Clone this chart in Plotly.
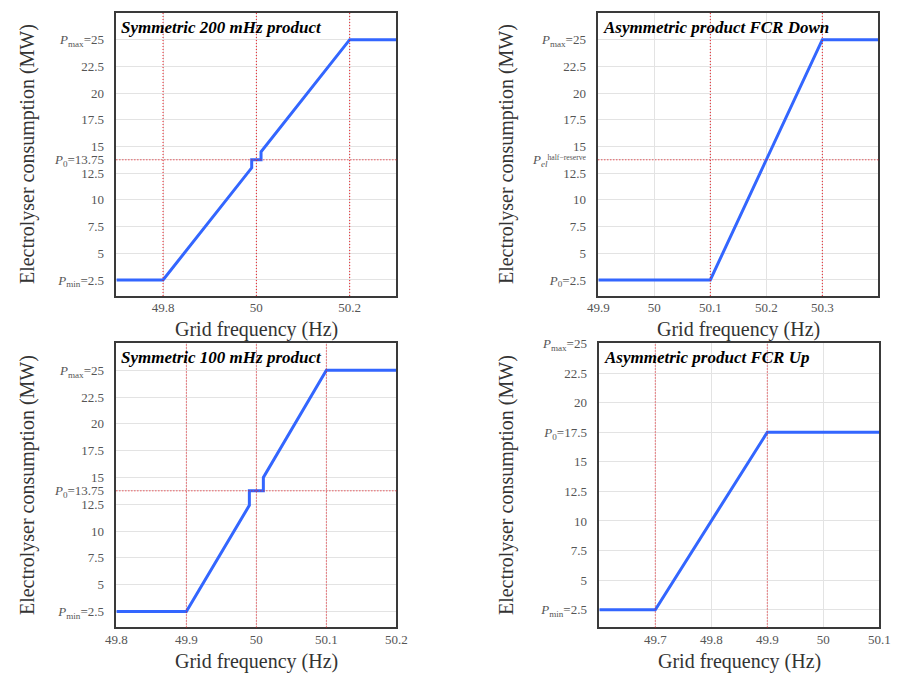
import plotly.graph_objects as go

# ---------------- data ----------------
# Panel 1: Symmetric 200 mHz product
p1_freq = [49.7, 49.8, 49.99, 49.99, 50.01, 50.01, 50.2, 50.3]
p1_power = [2.5, 2.5, 13.0, 13.75, 13.75, 14.5, 25, 25]
p1_vlines = [49.8, 50.0, 50.2]
p1_hlines = [13.75]
p1_xticks = [49.8, 50.0, 50.2]
p1_xticktext = ["49.8", "50", "50.2"]

# Panel 2: Asymmetric product FCR Down
p2_freq = [49.9, 50.1, 50.3, 50.4]
p2_power = [2.5, 2.5, 25, 25]
p2_vlines = [50.1, 50.3]
p2_hlines = [13.75]
p2_xticks = [49.9, 50.0, 50.1, 50.2, 50.3]
p2_xticktext = ["49.9", "50", "50.1", "50.2", "50.3"]

# Panel 3: Symmetric 100 mHz product
p3_freq = [49.8, 49.9, 49.99, 49.99, 50.01, 50.01, 50.1, 50.2]
p3_power = [2.5, 2.5, 12.4, 13.75, 13.75, 15.0, 25, 25]
p3_vlines = [49.9, 50.0, 50.1]
p3_hlines = [13.75]
p3_xticks = [49.8, 49.9, 50.0, 50.1, 50.2]
p3_xticktext = ["49.8", "49.9", "50", "50.1", "50.2"]

# Panel 4: Asymmetric product FCR Up
p4_freq = [49.6, 49.7, 49.9, 50.1]
p4_power = [2.5, 2.5, 17.5, 17.5]
p4_vlines = [49.7, 49.9]
p4_hlines = []
p4_xticks = [49.7, 49.8, 49.9, 50.0, 50.1]
p4_xticktext = ["49.7", "49.8", "49.9", "50", "50.1"]

sym_yticks = [2.5, 5, 7.5, 10, 12.5, 13.75, 15, 17.5, 20, 22.5, 25]
sym_yticktext = ["<i>P</i><sub>min</sub>=2.5", "5", "7.5", "10", "12.5",
                 "<i>P</i><sub>0</sub>=13.75", "15", "17.5", "20", "22.5",
                 "<i>P</i><sub>max</sub>=25"]
down_yticks = [2.5, 5, 7.5, 10, 12.5, 13.75, 15, 17.5, 20, 22.5, 25]
down_yticktext = ["<i>P</i><sub>0</sub>=2.5", "5", "7.5", "10", "12.5",
                  "<i>P</i><sub><i>el</i></sub><span style='font-size:11px'><sup>half−reserve</sup></span>",
                  "15", "17.5", "20", "22.5",
                  "<i>P</i><sub>max</sub>=25"]
up_yticks = [2.5, 5, 7.5, 10, 12.5, 15, 17.5, 20, 22.5, 25]
up_yticktext = ["<i>P</i><sub>min</sub>=2.5", "5", "7.5", "10", "12.5", "15",
                "<i>P</i><sub>0</sub>=17.5", "20", "22.5", "<i>P</i><sub>max</sub>=25"]

titles = ["Symmetric 200 mHz product", "Asymmetric product FCR Down",
          "Symmetric 100 mHz product", "Asymmetric product FCR Up"]

xlabel = "Grid frequency (Hz)"
ylabel = "Electrolyser consumption (MW)"

# ---------------- layout ----------------
W, H = 902, 674
FONT = "Liberation Serif"
BLUE = "#3366ff"
RED = "#e8141c"

panels = [
    dict(freq=p1_freq, power=p1_power, vl=p1_vlines, hl=p1_hlines, xt=p1_xticks, xtt=p1_xticktext,
         yt=sym_yticks, ytt=sym_yticktext, xr=[49.7, 50.3], yr=[1.0, 27.5],
         px=(108, 395), py=(6, 292), ylab_x=17),
    dict(freq=p2_freq, power=p2_power, vl=p2_vlines, hl=p2_hlines, xt=p2_xticks, xtt=p2_xticktext,
         yt=down_yticks, ytt=down_yticktext, xr=[49.9, 50.4], yr=[1.0, 27.5],
         px=(602, 889), py=(6, 292), ylab_x=508),
    dict(freq=p3_freq, power=p3_power, vl=p3_vlines, hl=p3_hlines, xt=p3_xticks, xtt=p3_xticktext,
         yt=sym_yticks, ytt=sym_yticktext, xr=[49.8, 50.2], yr=[1.0, 27.5],
         px=(108, 395), py=(340, 627), ylab_x=17),
    dict(freq=p4_freq, power=p4_power, vl=p4_vlines, hl=p4_hlines, xt=p4_xticks, xtt=p4_xticktext,
         yt=up_yticks, ytt=up_yticktext, xr=[49.6, 50.1], yr=[1.0, 25.0],
         px=(603, 890), py=(340, 627), ylab_x=508),
]

fig = go.Figure()
layout = dict(
    width=W, height=H, margin=dict(l=0, r=0, t=0, b=0),
    paper_bgcolor="white", plot_bgcolor="white", showlegend=False,
    font=dict(family=FONT, color="#555555", size=13),
)
shapes = []
annotations = []

for i, p in enumerate(panels):
    k = "" if i == 0 else str(i + 1)
    xa, ya = "x" + k, "y" + k
    fig.add_trace(go.Scatter(x=p["freq"], y=p["power"], mode="lines",
                             line=dict(color=BLUE, width=3), xaxis=xa, yaxis=ya,
                             hoverinfo="skip"))
    x0, x1 = p["px"][0] / W, p["px"][1] / W
    y0, y1 = 1 - p["py"][1] / H, 1 - p["py"][0] / H
    layout["xaxis" + k] = dict(
        domain=[x0, x1], range=p["xr"], anchor=ya, tickvals=p["xt"], ticktext=p["xtt"],
        showgrid=True, gridcolor="#e3e3e3", gridwidth=1.2, zeroline=False,
        showline=True, linecolor="#3a3a3a", linewidth=1.5, mirror=True, ticks="",
        tickfont=dict(size=13, color="#555555"), ticklabelstandoff=-1,
    )
    layout["yaxis" + k] = dict(
        domain=[y0, y1], range=p["yr"], anchor=xa, tickvals=p["yt"], ticktext=p["ytt"],
        showgrid=True, gridcolor="#e3e3e3", gridwidth=1.2, zeroline=False,
        showline=True, linecolor="#3a3a3a", linewidth=1.5, mirror=True, ticks="",
        tickfont=dict(size=13, color="#555555"), ticklabelstandoff=8,
    )
    for v in p["vl"]:
        shapes.append(dict(type="line", xref=xa, yref=ya + " domain", x0=v, x1=v, y0=0, y1=1,
                           line=dict(color=RED, width=1, dash="1px,2px"), layer="above"))
    for h in p["hl"]:
        shapes.append(dict(type="line", xref=xa + " domain", yref=ya, x0=0, x1=1, y0=h, y1=h,
                           line=dict(color=RED, width=1, dash="1px,2px"), layer="above"))
    # panel title
    annotations.append(dict(text="<b><i>" + titles[i] + "</i></b>", xref=xa + " domain",
                            yref=ya + " domain", x=0.008, y=0.99, xanchor="left", yanchor="top",
                            showarrow=False, font=dict(family=FONT, size=17, color="black")))
    # axis titles
    cx = (p["px"][0] + p["px"][1]) / 2 / W
    annotations.append(dict(text=xlabel, xref="paper", yref="paper", x=cx,
                            y=1 - (p["py"][1] + 34) / H, xanchor="center", yanchor="middle",
                            showarrow=False, font=dict(family=FONT, size=20, color="#333333")))
    cy = 1 - (p["py"][0] + p["py"][1]) / 2 / H
    annotations.append(dict(text=ylabel, xref="paper", yref="paper", x=p["ylab_x"] / W,
                            y=cy, xanchor="center", yanchor="middle", textangle=-90,
                            showarrow=False, font=dict(family=FONT, size=20, color="#333333")))

layout["shapes"] = shapes
layout["annotations"] = annotations
fig.update_layout(**layout)
fig.write_html("out.html")
